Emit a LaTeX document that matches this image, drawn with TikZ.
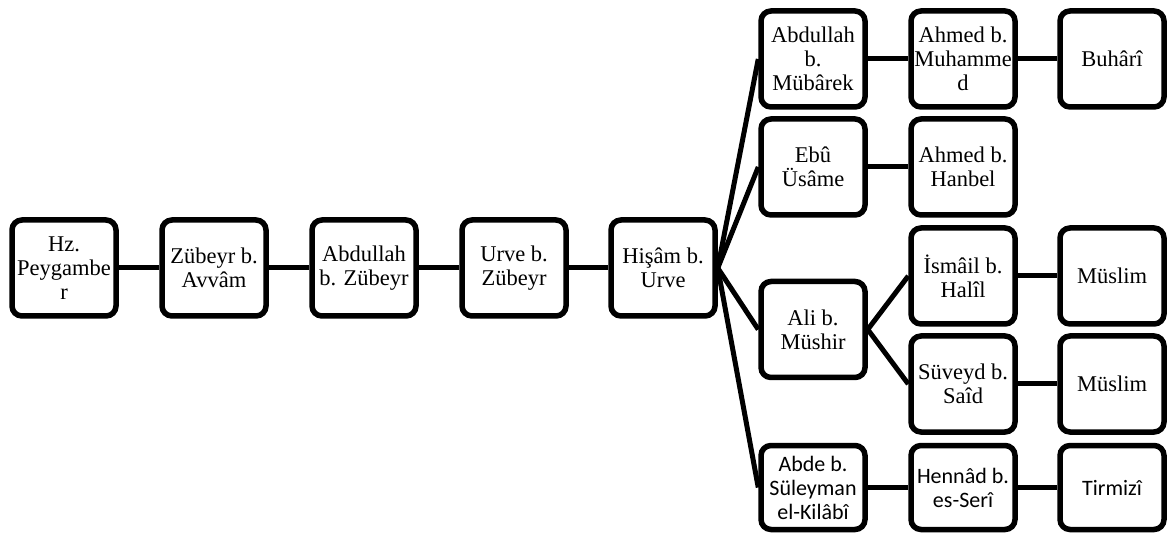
\documentclass[tikz,border=0pt]{standalone}
\usepackage{fontspec}
\setmainfont{Liberation Serif}
\newfontfamily\calibri{Carlito}

\begin{document}
\begin{tikzpicture}[x=1pt,y=-1pt]
      \tikzstyle{rnode} = [line width=5.5pt, draw, fill=white, rectangle, rounded corners = 10pt, minimum width=104pt, minimum height=96pt, inner sep = 1pt, align=center, font={\fontsize{22.5}{24}\selectfont}]
      \tikzstyle{snode} = [rnode, minimum height=84pt, font={\calibri\fontsize{22}{24}\selectfont}]
      \tikzstyle{link} = [line width=5pt]

      \useasboundingbox (0,0) rectangle (1170,534);

      \node[rnode] (c01) at (64,268) {Hz.\\Peygambe\\r};
      \node[rnode] (c02) at (214,268) {Zübeyr b.\\Avvâm};
      \node[rnode] (c03) at (364,268) {Abdullah\\b. Zübeyr};
      \node[rnode] (c04) at (514,268) {Urve b.\\Zübeyr};
      \node[rnode] (c05) at (663,268) {Hişâm b.\\Urve};

      \node[rnode] (t11) at (813,59) {Abdullah\\b.\\Mübârek};
      \node[rnode] (t12) at (963,59) {Ahmed b.\\Muhamme\\d};
      \node[rnode] (t13) at (1112,59) {Buhârî};

      \node[rnode] (t21) at (813,167) {Ebû\\Üsâme};
      \node[rnode] (t22) at (963,167) {Ahmed b.\\Hanbel};

      \node[rnode] (t31) at (813,329.5) {Ali b.\\Müshir};
      \node[rnode] (t32) at (963,276) {İsmâil b.\\Halîl};
      \node[rnode] (t33) at (1112,276) {Müslim};
      \node[rnode] (t42) at (963,384) {Süveyd b.\\Saîd};
      \node[rnode] (t43) at (1112,384) {Müslim};

      \node[snode] (t51) at (813,487.5) {Abde b.\\Süleyman\\el-Kilâbî};
      \node[snode] (t52) at (963,487.5) {Hennâd b.\\es-Serî};
      \node[snode] (t53) at (1112,487.5) {Tirmizî};

      \draw[link] (c01) -- (c02);
      \draw[link] (c02) -- (c03);
      \draw[link] (c03) -- (c04);
      \draw[link] (c04) -- (c05);
      \draw[link] (c05.east) -- (t11.west);
      \draw[link] (c05.east) -- (t21.west);
      \draw[link] (c05.east) -- (t31.west);
      \draw[link] (c05.east) -- (t51.west);
      \draw[link] (t11) -- (t12);
      \draw[link] (t12) -- (t13);
      \draw[link] (t21) -- (t22);
      \draw[link] (t31.east) -- (t32.west);
      \draw[link] (t31.east) -- (t42.west);
      \draw[link] (t32) -- (t33);
      \draw[link] (t42) -- (t43);
      \draw[link] (t51) -- (t52);
      \draw[link] (t52) -- (t53);
    \end{tikzpicture}
\end{document}
